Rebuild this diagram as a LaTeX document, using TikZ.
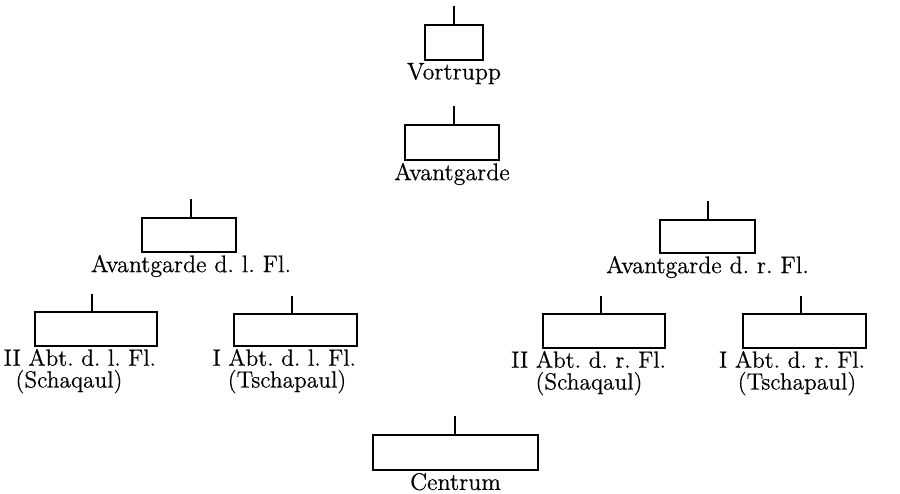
\documentclass[tikz,border=0pt]{standalone}
\usepackage{fontspec}
\setmainfont{Latin Modern Roman}[FakeBold=0.5]
\frenchspacing
\begin{document}
\begin{tikzpicture}[x=0.5pt,y=-0.5pt,
  unitbox/.style 2 args={draw,line width=1pt,inner sep=0pt,minimum width=#1*0.5pt,minimum height=#2*0.5pt},
  tick/.style={line width=1pt},
  lbl/.style={inner sep=0.8pt,font=\fontsize{12}{14}\selectfont\frenchspacing},
  sublbl/.style={inner sep=0.8pt,font=\fontsize{11.7}{14}\selectfont\frenchspacing}]
\useasboundingbox (0,0) rectangle (900,493);
% boxes
\node[unitbox={58}{35}] (vt) at (454,42.5) {};
\node[unitbox={94}{35}] (av) at (452,142.5) {};
\node[unitbox={94}{34}] (avl) at (189,235) {};
\node[unitbox={95}{33}] (avr) at (707.5,236.5) {};
\node[unitbox={122}{34}] (a2l) at (96,329) {};
\node[unitbox={123}{32}] (a1l) at (295.5,330) {};
\node[unitbox={122}{34}] (a2r) at (604,331) {};
\node[unitbox={123}{34}] (a1r) at (804.5,331) {};
\node[unitbox={165}{35}] (ce) at (455.5,452.5) {};
% ticks
\draw[tick] (vt.north) -- ++(0,-18);
\draw[tick] ([xshift=1pt]av.north) -- ++(0,-18);
\draw[tick] ([xshift=1pt]avl.north) -- ++(0,-18);
\draw[tick] ([xshift=0.25pt]avr.north) -- ++(0,-18);
\draw[tick] ([xshift=-2pt]a2l.north) -- ++(0,-17);
\draw[tick] ([xshift=-1.75pt]a1l.north) -- ++(0,-17);
\draw[tick] ([xshift=-1.5pt]a2r.north) -- ++(0,-17);
\draw[tick] ([xshift=-1.75pt]a1r.north) -- ++(0,-17);
\draw[tick] ([xshift=-0.25pt]ce.north) -- ++(0,-18);
% labels
\node[lbl,anchor=north] (tvt) at (vt.south) {Vortrupp};
\node[lbl,anchor=north] (tav) at (av.south) {Avantgarde};
\node[lbl,anchor=north] (tavl) at ([xshift=1pt]avl.south) {Avantgarde d. l. Fl.};
\node[lbl,anchor=north] (tavr) at (avr.south) {Avantgarde d. r. Fl.};
\node[sublbl,anchor=north east] (ta2l) at (a2l.south east) {II Abt. d. l. Fl.};
\node[sublbl,anchor=north] (sa2l) at (69,0 |- ta2l.south) {(Schaqaul)};
\node[sublbl,anchor=north east] (ta1l) at (a1l.south east) {I Abt. d. l. Fl.};
\node[sublbl,anchor=north] (sa1l) at (287,0 |- ta1l.south) {(Tschapaul)};
\node[sublbl,anchor=north east] (ta2r) at ([xshift=1pt]a2r.south east) {II Abt. d. r. Fl.};
\node[sublbl,anchor=north] (sa2r) at (589,0 |- ta2r.south) {(Schaqaul)};
\node[sublbl,anchor=north east] (ta1r) at (a1r.south east) {I Abt. d. r. Fl.};
\node[sublbl,anchor=north] (sa1r) at (797,0 |- ta1r.south) {(Tschapaul)};
\node[lbl,anchor=north] (tce) at (ce.south) {Centrum};
\end{tikzpicture}
\end{document}
